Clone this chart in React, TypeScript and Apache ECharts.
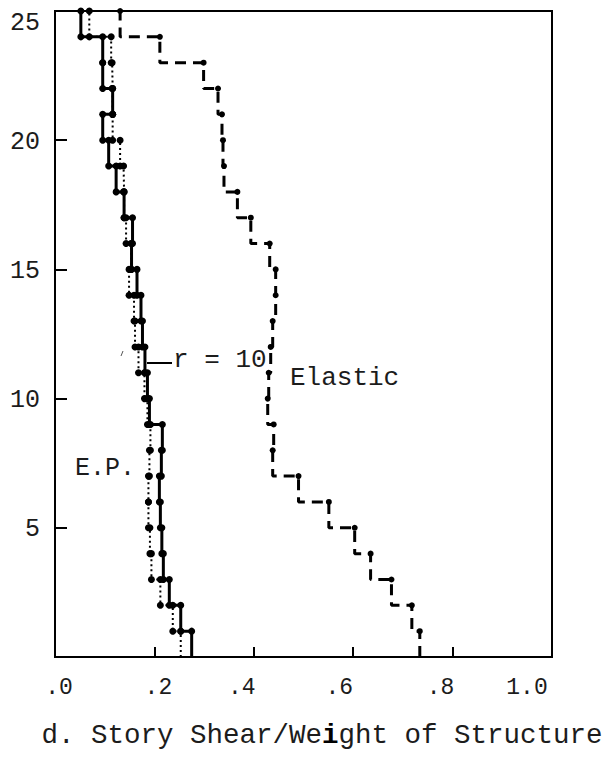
import React, { useEffect, useRef } from 'react';
import * as echarts from 'echarts';

// Story levels (1 = bottom story, 25 = top story)
const stories = [1, 2, 3, 4, 5, 6, 7, 8, 9, 10, 11, 12, 13, 14, 15, 16, 17, 18, 19, 20, 21, 22, 23, 24, 25];

// Story shear / weight of structure, per story (bottom to top)
const elastic = [0.734, 0.718, 0.677, 0.635, 0.603, 0.551, 0.49, 0.438, 0.44, 0.428, 0.43, 0.434, 0.438, 0.444, 0.444, 0.432, 0.394, 0.367, 0.34, 0.338, 0.336, 0.328, 0.299, 0.211, 0.131];
const r10 = [0.275, 0.253, 0.23, 0.218, 0.215, 0.212, 0.21, 0.214, 0.216, 0.19, 0.186, 0.181, 0.176, 0.173, 0.165, 0.154, 0.156, 0.139, 0.123, 0.108, 0.096, 0.116, 0.096, 0.096, 0.052];
const ep = [0.253, 0.237, 0.212, 0.194, 0.191, 0.188, 0.188, 0.19, 0.192, 0.186, 0.18, 0.168, 0.161, 0.159, 0.149, 0.153, 0.143, 0.139, 0.138, 0.131, 0.116, 0.116, 0.115, 0.113, 0.069];

// Tick labels
const xTickLabels = ['.0', '.2', '.4', '.6', '.8', '1.0'];
const yTickLabels = ['', '5', '10', '15', '20', '25'];

const FONT = "'Liberation Mono', 'DejaVu Sans Mono', monospace";
const INK = '#1c1c1c';

function stepData(vals: number[], dotsBothEnds: boolean) {
  const pts: any[] = [];
  vals.forEach((v, i) => {
    const top = stories[i];
    const bottom = top - 1;
    pts.push({ value: [v, bottom], symbol: dotsBothEnds && i > 0 ? 'circle' : 'none' });
    pts.push({ value: [v, top], symbol: 'circle' });
  });
  return pts;
}

export default function App() {
  const ref = useRef<HTMLDivElement>(null);

  useEffect(() => {
    if (!ref.current) return;
    const chart = echarts.init(ref.current, null, { renderer: 'svg' });

    const xRich: any = {};
    const xPads = [[0, 0, 0, 8], [0, 0, 0, 8], [0, 24, 0, 0], [0, 28, 0, 0], [0, 24, 0, 0], [0, 50, 0, 0]];
    xPads.forEach((p, i) => {
      xRich['x' + i] = { fontFamily: FONT, fontSize: 23, color: INK, padding: p };
    });

    const option: any = {
      animation: false,
      backgroundColor: '#ffffff',
      grid: {
        left: 55,
        right: 60,
        top: 11,
        bottom: 101,
        show: true,
        borderColor: '#000',
        borderWidth: 2,
        containLabel: false,
        outerBoundsMode: 'none',
      },
      xAxis: {
        type: 'value',
        min: 0,
        max: 1.0,
        interval: 0.2,
        splitLine: { show: false },
        axisLine: { show: true, lineStyle: { color: '#000', width: 2 } },
        axisTick: { show: true, inside: true, length: 10, lineStyle: { color: '#000', width: 2 } },
        axisLabel: {
          show: true,
          margin: 19,
          showMinLabel: true,
          showMaxLabel: true,
          fontFamily: FONT,
          fontSize: 23,
          color: INK,
          formatter: (v: number) => {
            const i = Math.round(v / 0.2);
            return `{x${i}|${xTickLabels[i]}}`;
          },
          rich: xRich,
        },
      },
      yAxis: {
        type: 'value',
        min: 0,
        max: 25,
        interval: 5,
        splitLine: { show: false },
        axisLine: { show: true, lineStyle: { color: '#000', width: 2 } },
        axisTick: { show: true, inside: true, length: 12, lineStyle: { color: '#000', width: 2 } },
        axisLabel: {
          show: true,
          margin: 15,
          showMinLabel: true,
          showMaxLabel: true,
          fontFamily: FONT,
          fontSize: 25,
          color: INK,
          formatter: (v: number) => {
            const i = Math.round(v / 5);
            const t = yTickLabels[i];
            if (!t) return '';
            return i === 5 ? `{t|${t}}` : `{n|${t}}`;
          },
          rich: {
            n: { fontFamily: FONT, fontSize: 25, color: INK, padding: [4, 0, 0, 0] },
            t: { fontFamily: FONT, fontSize: 25, color: INK, padding: [24, 0, 0, 0] },
          },
        },
      },
      series: [
        {
          name: 'Elastic',
          type: 'line',
          data: stepData(elastic, false),
          clip: false,
          symbolSize: 6,
          itemStyle: { color: '#000' },
          lineStyle: { color: '#000', width: 3, type: [11, 7] },
          z: 3,
        },
        {
          name: 'E.P.',
          type: 'line',
          data: stepData(ep, true),
          clip: false,
          symbolSize: 7,
          itemStyle: { color: '#000' },
          lineStyle: { color: '#000', width: 2, type: [2, 3] },
          z: 4,
        },
        {
          name: 'r = 10',
          type: 'line',
          data: stepData(r10, true),
          clip: false,
          symbolSize: 7,
          itemStyle: { color: '#000' },
          lineStyle: { color: '#000', width: 3, type: 'solid' },
          z: 5,
        },
      ],
      graphic: [
        {
          type: 'line',
          shape: { x1: 147, y1: 363, x2: 172, y2: 363 },
          style: { stroke: '#000', lineWidth: 2 },
        },
        {
          type: 'line',
          shape: { x1: 121, y1: 356, x2: 123, y2: 351 },
          style: { stroke: '#555', lineWidth: 1 },
        },
        {
          type: 'text',
          x: 173,
          y: 360,
          style: { text: 'r = 10', fontFamily: FONT, fontSize: 26, fill: INK, textAlign: 'left', textVerticalAlign: 'middle' },
        },
        {
          type: 'text',
          x: 290,
          y: 378,
          style: { text: 'Elastic', fontFamily: FONT, fontSize: 26, fill: INK, textAlign: 'left', textVerticalAlign: 'middle' },
        },
        {
          type: 'text',
          x: 75,
          y: 468,
          style: { text: 'E.P.', fontFamily: FONT, fontSize: 25, fill: INK, textAlign: 'left', textVerticalAlign: 'middle' },
        },
        {
          type: 'text',
          x: 322,
          y: 735,
          style: {
            text: 'd. Story Shear/We{b|i}ght of Structure',
            fontFamily: FONT,
            fontSize: 27.5,
            fill: INK,
            textAlign: 'center',
            textVerticalAlign: 'middle',
            rich: {
              b: { fontFamily: FONT, fontSize: 27.5, fontWeight: 'bold', fill: '#000' },
            },
          },
        },
      ],
    };

    chart.setOption(option);
    return () => {
      chart.dispose();
    };
  }, []);

  return (
    <div
      ref={ref}
      style={{ position: 'fixed', left: 0, top: 0, width: 612, height: 758, background: '#fff' }}
    />
  );
}
